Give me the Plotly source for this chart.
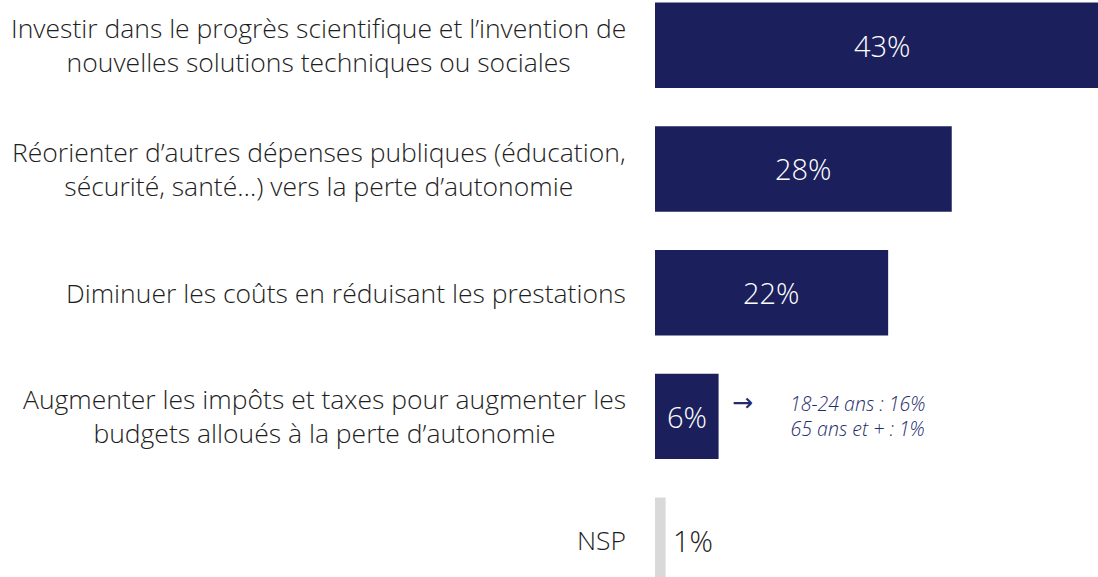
import plotly.graph_objects as go

categories = [
    "Investir dans le progrès scientifique et l’invention de<br>nouvelles solutions techniques ou sociales",
    "Réorienter d’autres dépenses publiques (éducation,<br>sécurité, santé…) vers la perte d’autonomie",
    "Diminuer les coûts en réduisant les prestations",
    "Augmenter les impôts et taxes pour augmenter les<br>budgets alloués à la perte d’autonomie",
    "NSP",
]
values = [43, 28, 22, 6, 1]
bar_colors = ["#1b205d", "#1b205d", "#1b205d", "#1b205d", "#d9d9d9"]
note_lines = ["18-24 ans : 16%", "65 ans et + : 1%"]

font_main = "Open Sans"

fig = go.Figure()

fig.add_trace(
    go.Bar(
        y=list(range(len(categories))),
        x=values,
        orientation="h",
        width=0.69,
        marker=dict(color=bar_colors, line=dict(width=0)),
        textposition="none",
        hoverinfo="skip",
    )
)

# value labels: white centred in the navy bars, black after the grey one
for i, v in enumerate(values):
    inside = bar_colors[i] != "#d9d9d9"
    fig.add_annotation(
        x=v / 2 if inside else v, xref="x",
        y=i, yref="y",
        xanchor="center" if inside else "left",
        xshift=0 if inside else 5,
        yanchor="middle",
        text=str(v) + "%",
        showarrow=False,
        font=dict(family=font_main, size=29, weight=300,
                  color="#ffffff" if inside else "#1a1a1a"),
    )

# category labels, centred lines, right aligned block
for i, label in enumerate(categories):
    fig.add_annotation(
        x=0, xref="paper",
        y=i, yref="y",
        xanchor="right", yanchor="middle",
        xshift=-27,
        align="center",
        text=label,
        showarrow=False,
        font=dict(family=font_main, size=26.5, weight=300, color="#1e1e1e"),
    )

# note next to the 4th bar
fig.add_annotation(
    x=values[3], xref="x", y=3, yref="y",
    xshift=24, yshift=14,
    xanchor="center", yanchor="middle",
    text="→", showarrow=False,
    font=dict(family="DejaVu Sans", size=25, color="#1f2d6b"),
)
fig.add_annotation(
    x=values[3], xref="x", y=3, yref="y",
    xshift=139, yshift=0,
    xanchor="center", yanchor="middle",
    align="center",
    text="<i>" + "<br>".join(note_lines) + "</i>",
    showarrow=False,
    font=dict(family=font_main, size=19.5, weight=300, color="#1f2d6b"),
)

fig.update_layout(
    width=1098,
    height=577,
    margin=dict(l=655, r=0, t=0, b=0, pad=0),
    paper_bgcolor="white",
    plot_bgcolor="white",
    showlegend=False,
)

fig.update_xaxes(
    range=[0, 41.8],
    showgrid=False,
    zeroline=False,
    showticklabels=False,
    showline=False,
    fixedrange=True,
)
fig.update_yaxes(
    range=[4.298, -0.366],
    showgrid=False,
    zeroline=False,
    showticklabels=False,
    showline=False,
    fixedrange=True,
)

fig.write_html("out.html", config={"displayModeBar": False},
               post_script="document.body.style.margin='0';")
